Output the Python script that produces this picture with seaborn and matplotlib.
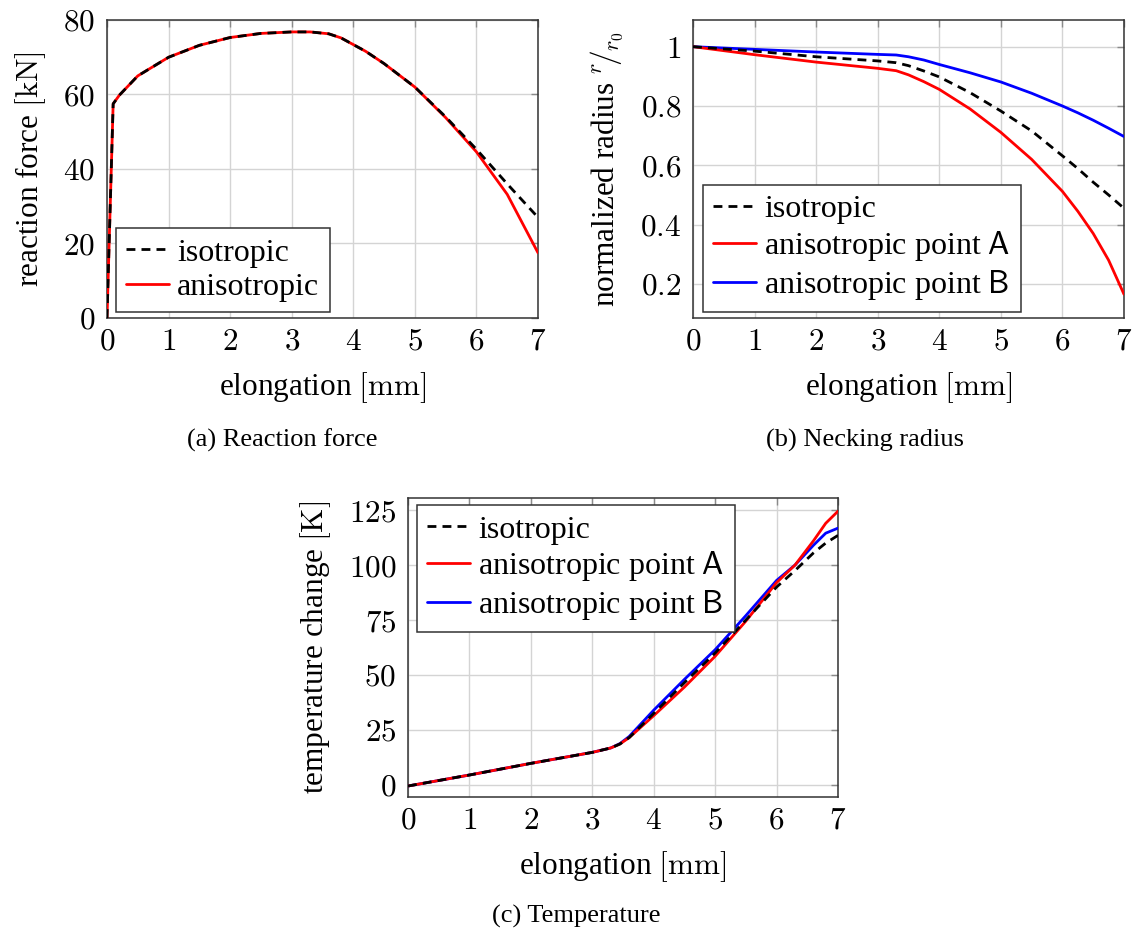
import matplotlib
matplotlib.use("Agg")
import matplotlib.pyplot as plt
from matplotlib.ticker import FixedLocator, FuncFormatter
import seaborn as sns

# ---- (a) reaction force ----
elong_a = [0.0, 0.1, 0.2, 0.5, 1.0, 1.5, 2.0, 2.5, 3.0, 3.3, 3.6, 3.8, 4.0, 4.2, 4.5, 5.0, 5.5, 6.0, 6.5, 7.0]
force_iso = [0.0, 57.5, 59.8, 65.0, 70.0, 73.2, 75.3, 76.4, 76.8, 76.8, 76.3, 75.2, 73.4, 71.6, 68.3, 62.0, 54.0, 45.3, 36.0, 27.0]
force_aniso = [0.0, 57.5, 59.8, 65.0, 70.0, 73.2, 75.3, 76.4, 76.8, 76.8, 76.3, 75.2, 73.4, 71.6, 68.3, 62.0, 53.8, 44.6, 33.2, 17.5]

# ---- (b) necking radius ----
elong_b = [0.0, 1.0, 2.0, 3.0, 3.3, 3.5, 3.75, 4.0, 4.5, 5.0, 5.5, 6.0, 6.25, 6.5, 6.75, 7.0]
radius_iso = [1.0, 0.985, 0.966, 0.952, 0.946, 0.936, 0.918, 0.898, 0.845, 0.783, 0.716, 0.632, 0.589, 0.543, 0.500, 0.455]
radius_a = [1.0, 0.973, 0.948, 0.927, 0.919, 0.905, 0.882, 0.856, 0.790, 0.711, 0.620, 0.512, 0.445, 0.370, 0.280, 0.165]
radius_b = [1.0, 0.991, 0.982, 0.974, 0.972, 0.966, 0.955, 0.940, 0.912, 0.881, 0.843, 0.800, 0.777, 0.752, 0.725, 0.697]

# ---- (c) temperature ----
elong_c = [0.0, 1.0, 2.0, 3.0, 3.3, 3.45, 3.6, 4.0, 4.5, 5.0, 5.5, 6.0, 6.3, 6.6, 6.8, 7.0]
temp_iso = [-0.5, 4.5, 9.8, 14.8, 16.8, 18.6, 21.5, 32.5, 46.5, 60.0, 75.0, 90.0, 97.5, 105.5, 110.0, 113.5]
temp_a = [-0.5, 4.5, 9.8, 14.8, 16.8, 18.6, 21.5, 31.5, 44.5, 58.5, 74.5, 92.0, 100.0, 111.0, 119.0, 124.5]
temp_b = [-0.5, 4.5, 9.8, 14.8, 16.8, 18.8, 22.0, 34.0, 48.0, 61.5, 77.0, 93.0, 100.0, 109.0, 114.5, 116.8]

elong_ticks = [0, 1, 2, 3, 4, 5, 6, 7]
force_ticks = [0, 20, 40, 60, 80]
radius_ticks = [0.2, 0.4, 0.6, 0.8, 1.0]
temp_ticks = [0, 25, 50, 75, 100, 125]

sns.set_theme(style="whitegrid")
plt.rcParams["font.family"] = ["Liberation Serif", "DejaVu Serif"]
plt.rcParams["mathtext.fontset"] = "cm"
for key in ("text.color", "axes.labelcolor", "xtick.labelcolor", "ytick.labelcolor"):
    plt.rcParams[key] = "black"

FS = 22.5
DASH = (0, (3.2, 2.2))
LW = 2.0

fig = plt.figure(figsize=(11.35, 9.33), dpi=100)
W, H = 1135.0, 933.0


def make_axes(x0, y0, x1, y1):
    return fig.add_axes([x0 / W, 1 - y1 / H, (x1 - x0) / W, (y1 - y0) / H])


ax_a = make_axes(107, 20, 538, 318)
ax_b = make_axes(693, 20, 1124, 318)
ax_c = make_axes(408, 498, 838, 797)

cm_fmt = FuncFormatter(lambda v, p: f"${v:g}$")


def style_axes(ax, yticks, ylim, ylabel):
    ax.set_xlim(0, 7)
    ax.set_ylim(*ylim)
    ax.xaxis.set_major_locator(FixedLocator(elong_ticks))
    ax.yaxis.set_major_locator(FixedLocator(yticks))
    ax.xaxis.set_major_formatter(cm_fmt)
    ax.yaxis.set_major_formatter(cm_fmt)
    ax.tick_params(axis="both", which="major", direction="in", length=5, width=1.0,
                   color="#8a8a8a", labelcolor="black", top=True, right=True,
                   labelsize=FS, pad=7)
    ax.tick_params(axis="y", pad=8.5)
    ax.grid(True, color="#d4d4d4", linewidth=1.0)
    for s in ax.spines.values():
        s.set_color("#333333")
        s.set_linewidth(1.1)
    ax.set_xlabel(r"elongation $[\mathrm{mm}]$", fontsize=FS, labelpad=9.5, color="black")
    ax.set_ylabel(ylabel, fontsize=FS, labelpad=11, color="black")


def add_legend(ax, handles, labels, loc, anchor_px):
    # anchor offset given in pixels from the matching axes corner
    bb = ax.get_position()
    ax_w, ax_h = bb.width * W, bb.height * H
    dx, dy = anchor_px
    if loc == "lower left":
        anchor = (dx / ax_w, dy / ax_h)
    else:
        anchor = (dx / ax_w, 1 - dy / ax_h)
    leg = ax.legend(handles, labels, loc=loc, bbox_to_anchor=anchor, borderaxespad=0,
                    fontsize=23, frameon=True, fancybox=False,
                    framealpha=1.0, edgecolor="#333333", handlelength=1.35,
                    handletextpad=0.25, labelspacing=0.15, borderpad=0.32)
    leg.get_frame().set_linewidth(1.1)
    return leg


# (a)
sns.lineplot(x=elong_a, y=force_aniso, ax=ax_a, color="#ff0000", lw=LW, label="anisotropic", zorder=3)
sns.lineplot(x=elong_a, y=force_iso, ax=ax_a, color="black", lw=LW, linestyle=DASH, label="isotropic", zorder=4)
style_axes(ax_a, force_ticks, (0, 80), r"reaction force $[\mathrm{kN}]$")
h, l = ax_a.get_legend_handles_labels()
add_legend(ax_a, [h[1], h[0]], [l[1], l[0]], "lower left", (9, 6))

# (b)
lab_a = r"anisotropic point $\mathsf{A}$"
lab_b = r"anisotropic point $\mathsf{B}$"
sns.lineplot(x=elong_b, y=radius_b, ax=ax_b, color="#0000ff", lw=LW, label=lab_b, zorder=3)
sns.lineplot(x=elong_b, y=radius_a, ax=ax_b, color="#ff0000", lw=LW, label=lab_a, zorder=3)
sns.lineplot(x=elong_b, y=radius_iso, ax=ax_b, color="black", lw=LW, linestyle=DASH, label="isotropic", zorder=4)
style_axes(ax_b, radius_ticks, (0.085, 1.09), r"normalized radius ${}^{r}\!/_{r_0}$")
h, l = ax_b.get_legend_handles_labels()
add_legend(ax_b, [h[2], h[1], h[0]], [l[2], l[1], l[0]], "lower left", (10, 6))

# (c)
sns.lineplot(x=elong_c, y=temp_b, ax=ax_c, color="#0000ff", lw=LW, label=lab_b, zorder=3)
sns.lineplot(x=elong_c, y=temp_a, ax=ax_c, color="#ff0000", lw=LW, label=lab_a, zorder=3)
sns.lineplot(x=elong_c, y=temp_iso, ax=ax_c, color="black", lw=LW, linestyle=DASH, label="isotropic", zorder=4)
style_axes(ax_c, temp_ticks, (-5.5, 130.5), r"temperature change $[\mathrm{K}]$")
h, l = ax_c.get_legend_handles_labels()
add_legend(ax_c, [h[2], h[1], h[0]], [l[2], l[1], l[0]], "upper left", (9, 7))

# sub-captions
fig.text(282 / W, 1 - 440 / H, "(a) Reaction force", ha="center", va="center", fontsize=19)
fig.text(865 / W, 1 - 440 / H, "(b) Necking radius", ha="center", va="center", fontsize=19)
fig.text(576 / W, 1 - 916 / H, "(c) Temperature", ha="center", va="center", fontsize=19)

fig.savefig("out.png", dpi=100)
